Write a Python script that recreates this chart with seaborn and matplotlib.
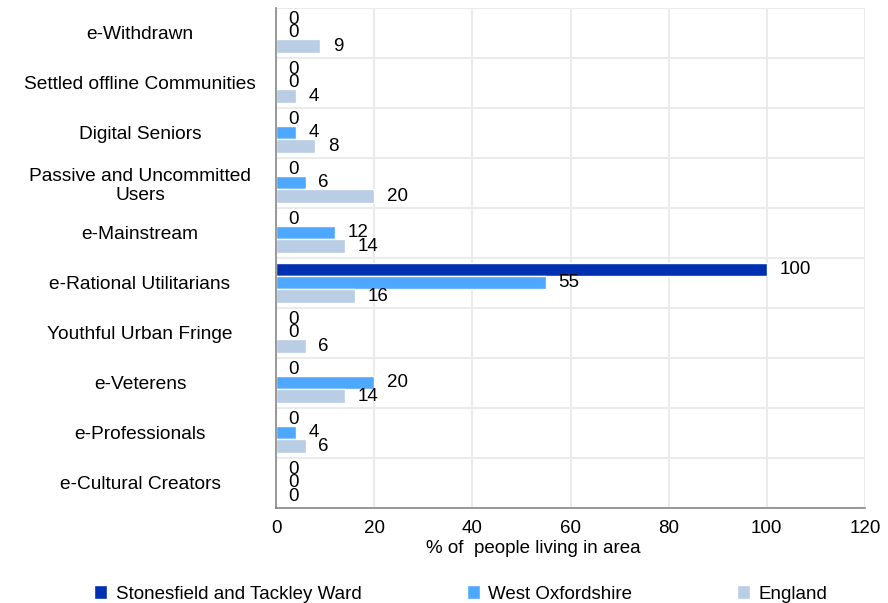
import pandas as pd
import matplotlib.pyplot as plt
import seaborn as sns

# Data
categories = ['e-Withdrawn', 'Settled offline Communities', 'Digital Seniors',
              'Passive and Uncommitted\nUsers', 'e-Mainstream', 'e-Rational Utilitarians',
              'Youthful Urban Fringe', 'e-Veterens', 'e-Professionals', 'e-Cultural Creators']
series = ['Stonesfield and Tackley Ward', 'West Oxfordshire', 'England']
stonesfield = [0, 0, 0, 0, 0, 100, 0, 0, 0, 0]
west_oxon = [0, 0, 4, 6, 12, 55, 0, 20, 4, 0]
england = [9, 4, 8, 20, 14, 16, 6, 14, 6, 0]
colors = ['#0030B2', '#4FA8FF', '#B9CDE5']

df = pd.DataFrame({
    'Category': categories * 3,
    'Area': [s for s in series for _ in categories],
    'Value': stonesfield + west_oxon + england,
})

sns.set_style('white')
plt.rcParams['font.family'] = ['Liberation Sans', 'DejaVu Sans']
plt.rcParams['text.color'] = 'black'
plt.rcParams['xtick.labelcolor'] = 'black'
plt.rcParams['ytick.labelcolor'] = 'black'
plt.rcParams['axes.labelcolor'] = 'black'
fs = 13.5

fig = plt.figure(figsize=(8.88, 6.03), dpi=100)
ax = fig.add_axes([0.311, 0.158, 0.663, 0.829])

sns.barplot(data=df, x='Value', y='Category', hue='Area', palette=colors,
            orient='h', width=0.8, saturation=1, ax=ax)
ax.get_legend().remove()

for cont in ax.containers:
    ax.bar_label(cont, fmt='%g', padding=9, fontsize=fs, color='black')

ax.set_xlim(0, 120)
ax.set_xticks(range(0, 121, 20))
ax.set_ylim(len(categories) - 0.5, -0.5)

# category boundaries as minor ticks + horizontal grid
ax.set_yticks([i + 0.5 for i in range(-1, len(categories))], minor=True)
ax.grid(True, which='minor', axis='y', color='#EBEBEB', lw=1.5)
ax.grid(True, which='major', axis='x', color='#EBEBEB', lw=1.5)
ax.set_axisbelow(True)

ax.tick_params(axis='y', which='major', length=0, pad=98, labelsize=13.8)
for lbl in ax.get_yticklabels():
    lbl.set_ha('center')
    lbl.set_multialignment('center')
ax.tick_params(axis='y', which='minor', length=5, width=1, color='#888888', direction='out')
ax.tick_params(axis='x', length=5, width=1, color='#888888', direction='out', labelsize=fs, pad=4)

for side in ['top', 'right']:
    ax.spines[side].set_visible(False)
for side in ['left', 'bottom']:
    ax.spines[side].set_color('#888888')
    ax.spines[side].set_linewidth(1.2)

ax.set_ylabel('')
ax.set_xlabel('% of  people living in area', fontsize=fs)
ax.xaxis.set_label_coords((533 - 276) / (865 - 276), -0.065)

handles, labels = ax.get_legend_handles_labels()
fig.legend(handles, labels, loc='center', bbox_to_anchor=(0.519, 0.015), ncol=3,
           frameon=False, fontsize=fs, handlelength=0.7, handleheight=0.7,
           handletextpad=0.45, columnspacing=5.6)

plt.savefig('out.png', dpi=100)
